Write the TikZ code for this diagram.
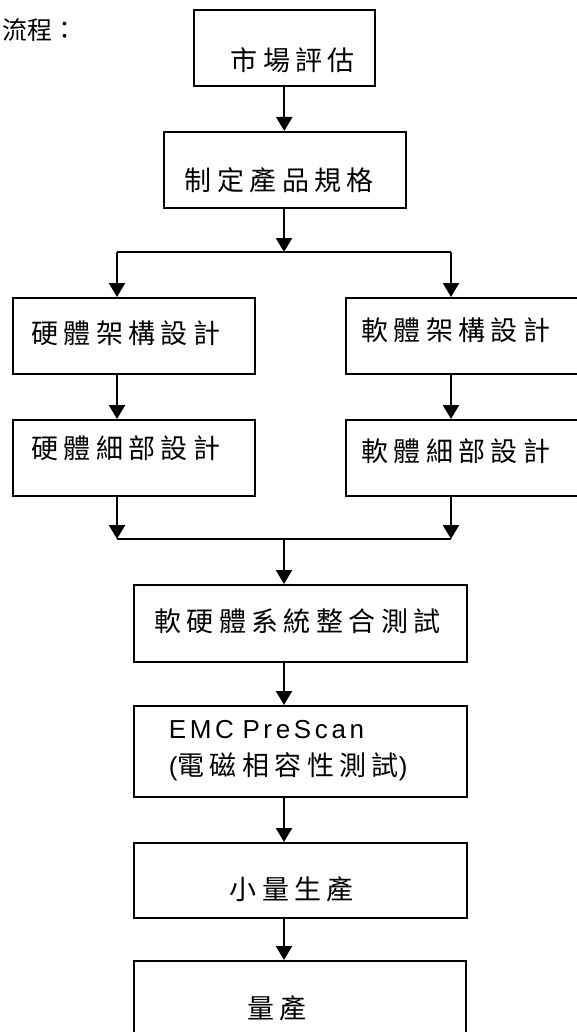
\documentclass[tikz,border=0pt]{standalone}
\usepackage{fontspec}
\setmainfont{Liberation Sans}
\newfontfamily\cjk[LetterSpace=20]{Noto Sans CJK TC}
\newfontfamily\cjkplain{Noto Sans CJK TC}
\newfontfamily\latin[LetterSpace=14]{Liberation Sans}
\usetikzlibrary{arrows.meta}

\begin{document}
\begin{tikzpicture}[
        x=1pt, y=-1pt,
        stepbox/.style={rectangle, draw, line width=1.6pt, inner sep=0pt, anchor=north west, font=\fontsize{27}{37}\selectfont\cjk, text depth=3pt},
        arrow/.style={-{Triangle[length=14pt, width=16pt]}, line width=2.2pt},
        link/.style={line width=2pt}
        ]
        \useasboundingbox (0,0) rectangle (577,1032);

        % Title
        \node (title) [anchor=west, inner sep=0pt, font=\fontsize{25}{37}\selectfont\cjkplain, text height=22pt, text depth=3pt] at (2,30) {流程：};

        % Nodes
        \node (market) [stepbox, minimum width=181pt, minimum height=76pt, text height=49pt] at (193,9) {\hspace{17pt}市場評估};
        \node (spec) [stepbox, minimum width=242pt, minimum height=76pt, text height=45pt] at (163,131) {制定產品規格\hspace{11pt}\mbox{}};
        \node (hwarch) [stepbox, minimum width=242pt, minimum height=76pt, text height=18pt] at (12,297) {硬體架構設計\hspace{16pt}\mbox{}};
        \node (swarch) [stepbox, minimum width=245pt, minimum height=76pt, text height=13pt] at (345,297) {軟體架構設計\hspace{25pt}\mbox{}};
        \node (hwdet) [stepbox, minimum width=242pt, minimum height=76pt, text height=4pt] at (12,419) {硬體細部設計\hspace{16pt}\mbox{}};
        \node (swdet) [stepbox, minimum width=245pt, minimum height=76pt, text height=10pt] at (345,419) {軟體細部設計\hspace{25pt}\mbox{}};
        \node (integ) [stepbox, minimum width=333pt, minimum height=77pt, text height=19pt] at (133,584) {軟硬體系統整合測試\hspace{6pt}\mbox{}};
        \node (emc) [stepbox, minimum width=333pt, minimum height=91pt, inner xsep=35pt, text width=263pt, align=left, text height={}, text depth={}, font=\fontsize{26}{37}\selectfont\latin] at (133,705) {EMC PreScan\\({\fontsize{27}{37}\selectfont\cjk 電磁相容性測試})\rule[-6pt]{0pt}{6pt}};
        \node (pilot) [stepbox, minimum width=333pt, minimum height=75pt, text height=41pt] at (133,842) {小量生產\hspace{17pt}\mbox{}};
        \node (mass) [stepbox, minimum width=332pt, minimum height=90pt, text height=28pt] at (133,960) {量產\hspace{46pt}\mbox{}};

        % Junctions
        \coordinate (split) at (284,252);
        \coordinate (hwlane) at (117,252);
        \coordinate (swlane) at (451,252);
        \coordinate (merge) at (284,539);

        % Arrows
        \draw [arrow] (market.south) -- (market.south |- spec.north);
        \draw [arrow] (spec.south -| split) -- (split);
        \draw [link] (hwlane) -- (swlane);
        \draw [arrow] (hwlane) -- (hwlane |- hwarch.north);
        \draw [arrow] (swlane) -- (swlane |- swarch.north);
        \draw [arrow] (hwlane |- hwarch.south) -- (hwlane |- hwdet.north);
        \draw [arrow] (swlane |- swarch.south) -- (swlane |- swdet.north);
        \draw [arrow] (hwlane |- hwdet.south) -- (hwlane |- merge);
        \draw [arrow] (swlane |- swdet.south) -- (swlane |- merge);
        \draw [link] (hwlane |- merge) -- (swlane |- merge);
        \draw [arrow] (merge) -- (merge |- integ.north);
        \draw [arrow] (merge |- integ.south) -- (merge |- emc.north);
        \draw [arrow] (merge |- emc.south) -- (merge |- pilot.north);
        \draw [arrow] (merge |- pilot.south) -- (merge |- mass.north);

\end{tikzpicture}
\end{document}
